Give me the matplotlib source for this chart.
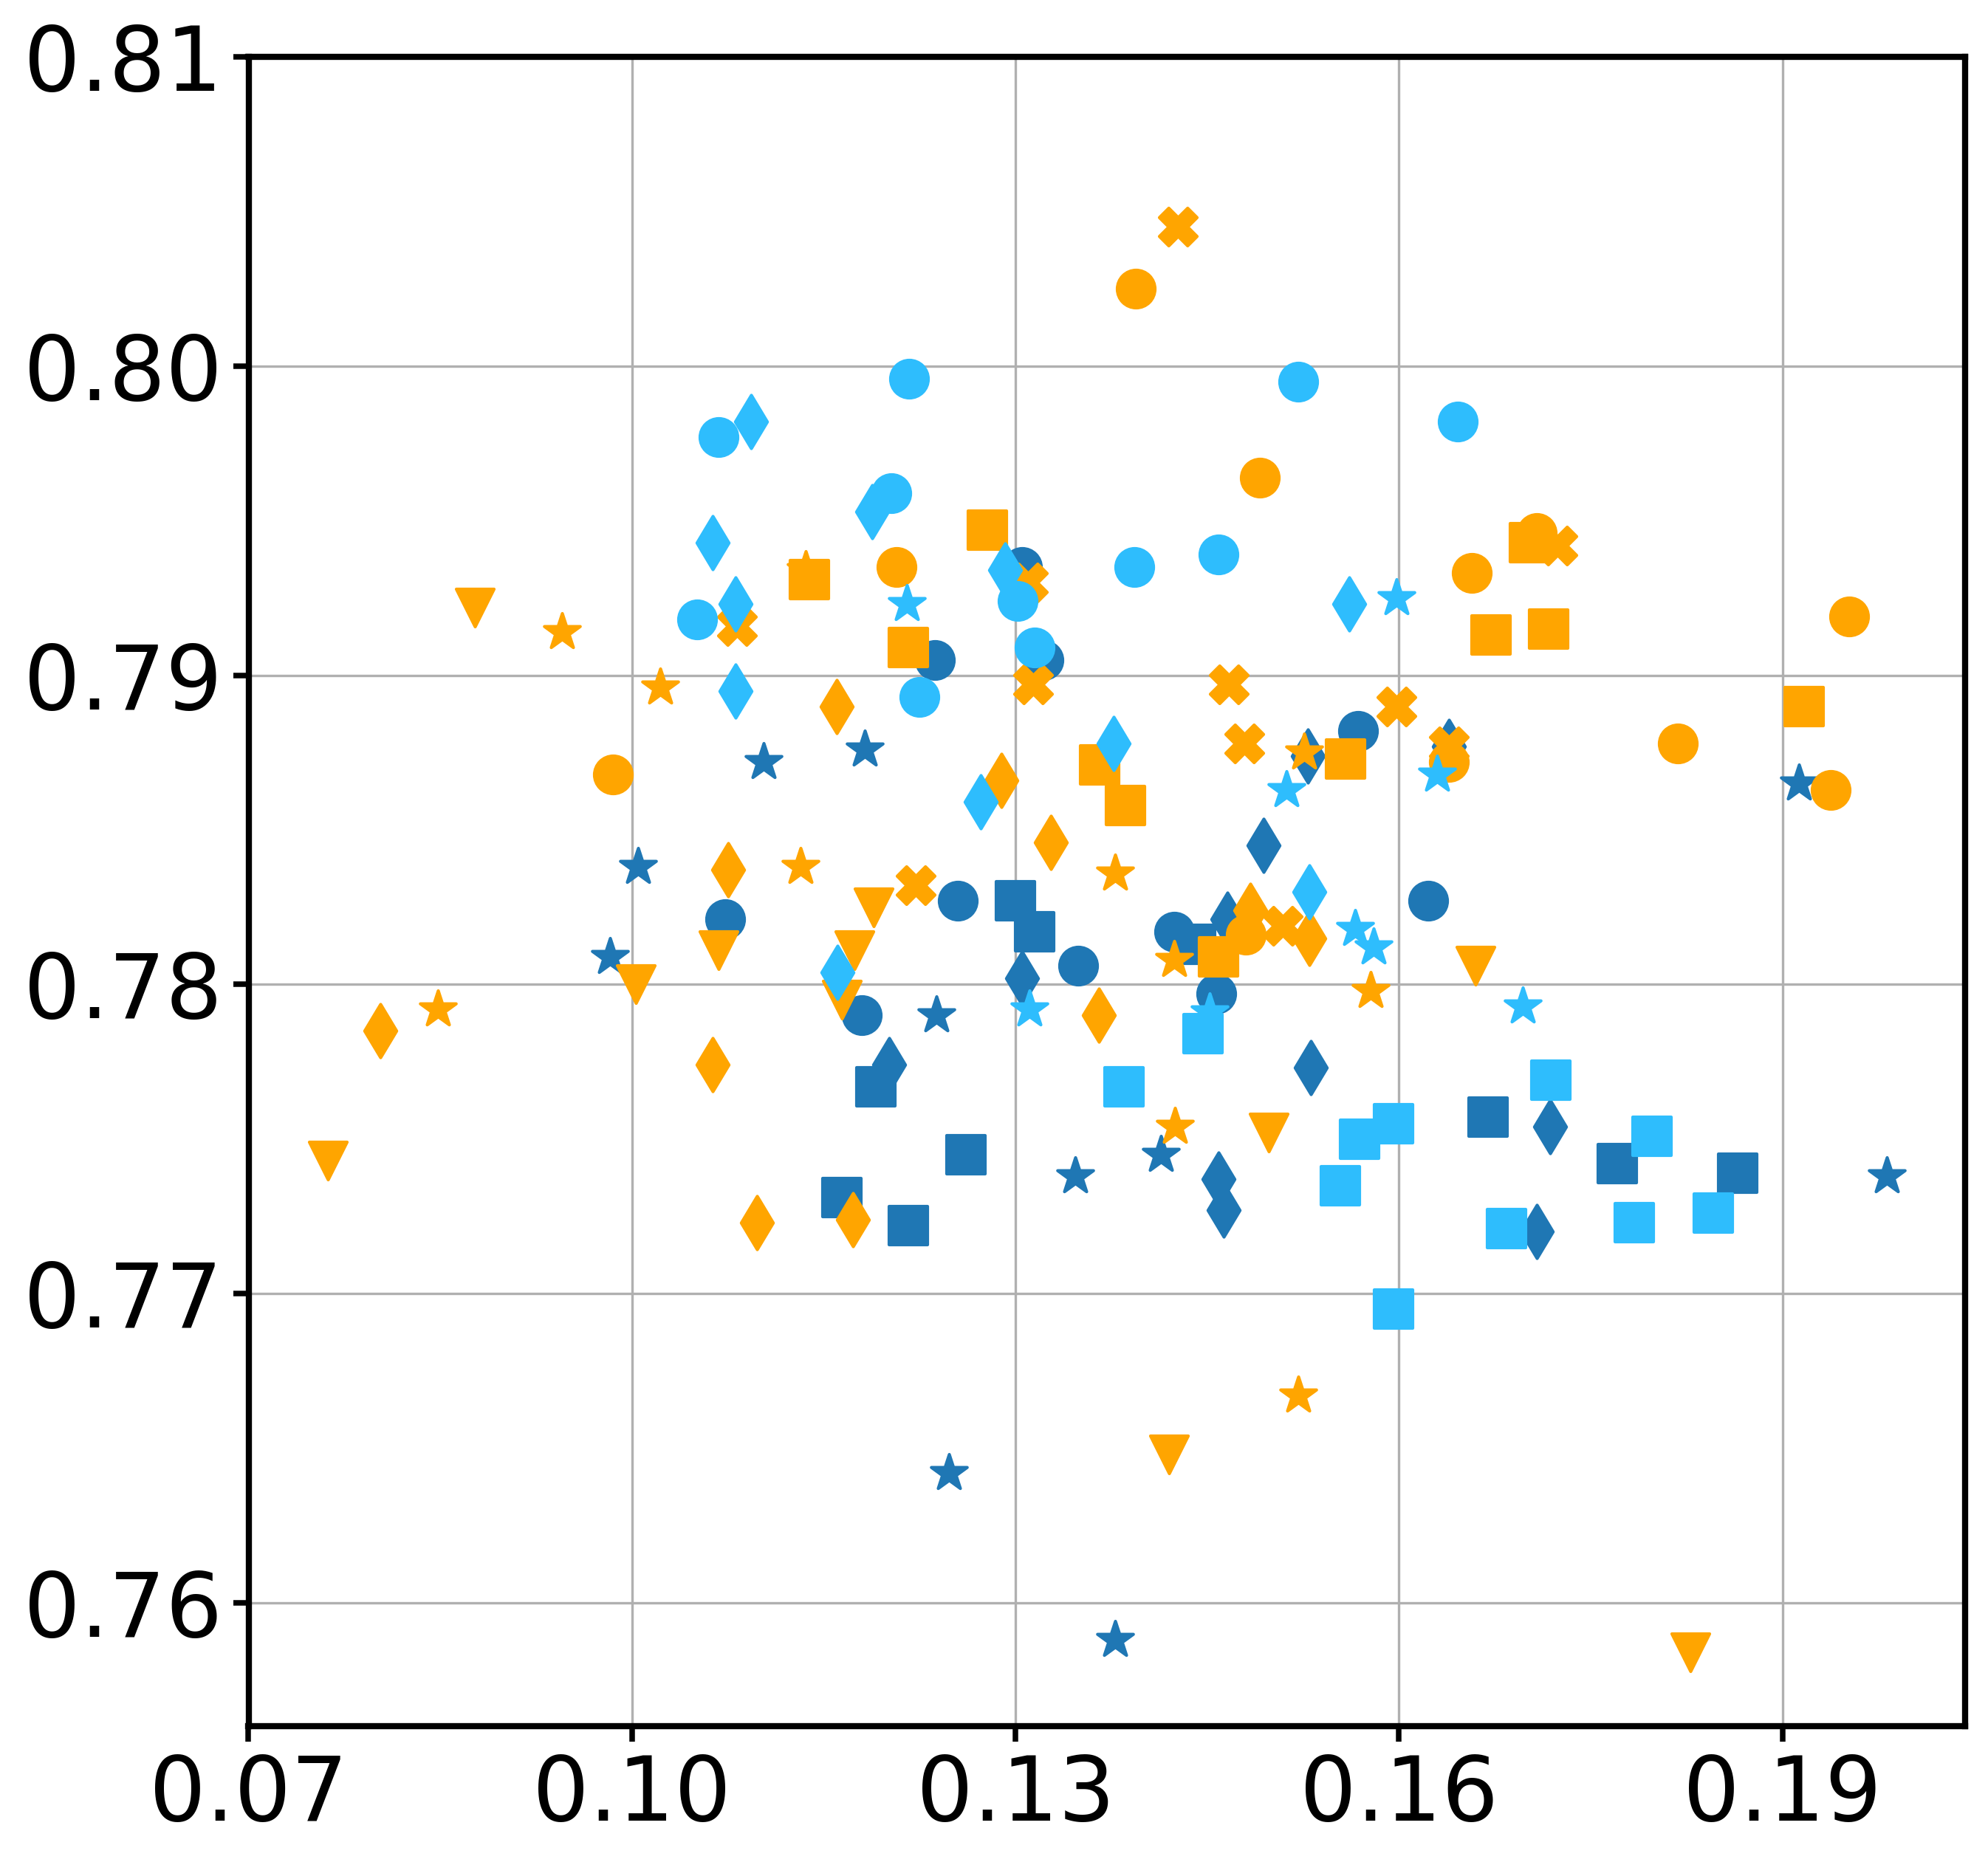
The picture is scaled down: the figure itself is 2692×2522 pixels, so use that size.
import matplotlib
matplotlib.use("Agg")
import matplotlib.pyplot as plt
from matplotlib.ticker import FormatStrFormatter

# ---- data ----
dark_circle_x = [0.1305, 0.1237, 0.1322, 0.1073, 0.1180, 0.1255, 0.1349, 0.1424, 0.1457, 0.1568, 0.1623]
dark_circle_y = [0.7935, 0.7905, 0.7905, 0.7821, 0.7790, 0.7827, 0.7806, 0.7817, 0.7797, 0.7882, 0.7827]

dark_square_x = [0.1300, 0.1315, 0.1191, 0.1164, 0.1216, 0.1261, 0.1441, 0.1670, 0.1771, 0.1865]
dark_square_y = [0.7827, 0.7817, 0.7767, 0.7731, 0.7722, 0.7745, 0.7813, 0.7757, 0.7742, 0.7739]

dark_diamond_x = [0.1201, 0.1305, 0.1466, 0.1494, 0.1529, 0.1639, 0.1531, 0.1459, 0.1463, 0.1718, 0.1708]
dark_diamond_y = [0.7774, 0.7802, 0.7821, 0.7845, 0.7874, 0.7877, 0.7773, 0.7737, 0.7727, 0.7754, 0.7720]

dark_star_x = [0.1005, 0.0983, 0.1103, 0.1182, 0.1238, 0.1248, 0.1347, 0.1414, 0.1378, 0.1913, 0.1982]
dark_star_y = [0.7838, 0.7809, 0.7872, 0.7876, 0.7790, 0.7642, 0.7738, 0.7745, 0.7588, 0.7865, 0.7738]

light_circle_x = [0.1068, 0.1217, 0.1521, 0.1646, 0.1203, 0.1051, 0.1393, 0.1459, 0.1302, 0.1315, 0.1225]
light_circle_y = [0.7977, 0.7996, 0.7995, 0.7982, 0.7959, 0.7918, 0.7935, 0.7939, 0.7924, 0.7909, 0.7893]

light_square_x = [0.1385, 0.1447, 0.1554, 0.1569, 0.1596, 0.1596, 0.1684, 0.1719, 0.1784, 0.1798, 0.1846]
light_square_y = [0.7767, 0.7784, 0.7735, 0.7750, 0.7755, 0.7695, 0.7721, 0.7769, 0.7723, 0.7751, 0.7726]

light_diamond_x = [0.1093, 0.1063, 0.1081, 0.1081, 0.1188, 0.1292, 0.1273, 0.1377, 0.1561, 0.1530, 0.1161]
light_diamond_y = [0.7982, 0.7943, 0.7923, 0.7895, 0.7953, 0.7934, 0.7859, 0.7878, 0.7923, 0.7830, 0.7804]

light_star_x = [0.1215, 0.1598, 0.1512, 0.1630, 0.1566, 0.1580, 0.1311, 0.1452, 0.1697]
light_star_y = [0.7923, 0.7925, 0.7863, 0.7868, 0.7818, 0.7812, 0.7792, 0.7791, 0.7793]

orange_circle_x = [0.1394, 0.1491, 0.1207, 0.1657, 0.1708, 0.0985, 0.1639, 0.1818, 0.1952, 0.1938, 0.1480]
orange_circle_y = [0.8025, 0.7964, 0.7935, 0.7933, 0.7946, 0.7868, 0.7872, 0.7878, 0.7919, 0.7863, 0.7816]

orange_square_x = [0.1278, 0.1139, 0.1216, 0.1672, 0.1702, 0.1717, 0.1917, 0.1366, 0.1386, 0.1558, 0.1459]
orange_square_y = [0.7947, 0.7931, 0.7909, 0.7913, 0.7943, 0.7915, 0.7890, 0.7871, 0.7858, 0.7873, 0.7809]

orange_diamond_x = [0.1160, 0.1075, 0.1289, 0.1328, 0.1365, 0.1063, 0.0803, 0.1098, 0.1173, 0.1484, 0.1530]
orange_diamond_y = [0.7890, 0.7837, 0.7866, 0.7846, 0.7790, 0.7774, 0.7785, 0.7723, 0.7724, 0.7824, 0.7815]

orange_star_x = [0.0945, 0.1022, 0.1136, 0.1132, 0.0848, 0.1378, 0.1424, 0.1425, 0.1526, 0.1578, 0.1521]
orange_star_y = [0.7914, 0.7896, 0.7934, 0.7838, 0.7792, 0.7836, 0.7808, 0.7754, 0.7875, 0.7798, 0.7667]

orange_x_x = [0.1427, 0.1082, 0.1310, 0.1314, 0.1467, 0.1479, 0.1222, 0.1598, 0.1639, 0.1724, 0.1509]
orange_x_y = [0.8045, 0.7916, 0.7930, 0.7897, 0.7897, 0.7878, 0.7832, 0.7890, 0.7877, 0.7942, 0.7819]

orange_tri_x = [0.0877, 0.0762, 0.1003, 0.1068, 0.1189, 0.1174, 0.1164, 0.1498, 0.1420, 0.1660, 0.1828]
orange_tri_y = [0.7922, 0.7743, 0.7800, 0.7811, 0.7825, 0.7811, 0.7795, 0.7752, 0.7648, 0.7806, 0.7584]

x_ticks = [0.07, 0.10, 0.13, 0.16, 0.19]
y_ticks = [0.76, 0.77, 0.78, 0.79, 0.80, 0.81]

DARK = "#1f77b4"
LIGHT = "#2ebdfd"
ORANGE = "#ffa500"

fig = plt.figure(figsize=(2692 / 300, 2522 / 300), dpi=300)
ax = fig.add_axes([0.125, 0.0728, 0.8635, 0.8966])

S = 150
series = [
    (dark_diamond_x, dark_diamond_y, DARK, "d"),
    (dark_square_x, dark_square_y, DARK, "s"),
    (dark_circle_x, dark_circle_y, DARK, "o"),
    (dark_star_x, dark_star_y, DARK, "*"),
    (orange_circle_x, orange_circle_y, ORANGE, "o"),
    (orange_square_x, orange_square_y, ORANGE, "s"),
    (orange_diamond_x, orange_diamond_y, ORANGE, "d"),
    (orange_x_x, orange_x_y, ORANGE, "X"),
    (orange_star_x, orange_star_y, ORANGE, "*"),
    (orange_tri_x, orange_tri_y, ORANGE, "v"),
    (light_circle_x, light_circle_y, LIGHT, "o"),
    (light_square_x, light_square_y, LIGHT, "s"),
    (light_diamond_x, light_diamond_y, LIGHT, "d"),
    (light_star_x, light_star_y, LIGHT, "*"),
]
for xs, ys, c, m in series:
    ax.scatter(xs, ys, s=S, c=c, marker=m, zorder=3)

ax.set_xlim(0.0701, 0.2043)
ax.set_ylim(0.756, 0.81)
ax.set_xticks(x_ticks)
ax.set_yticks(y_ticks)
ax.xaxis.set_major_formatter(FormatStrFormatter("%.2f"))
ax.yaxis.set_major_formatter(FormatStrFormatter("%.2f"))
ax.tick_params(labelsize=29, length=5, width=1.8)
ax.grid(True, color="#b0b0b0", linewidth=0.8, zorder=0)
ax.set_axisbelow(True)
for sp in ax.spines.values():
    sp.set_linewidth(2.0)

fig.savefig("out.png", dpi=300)
